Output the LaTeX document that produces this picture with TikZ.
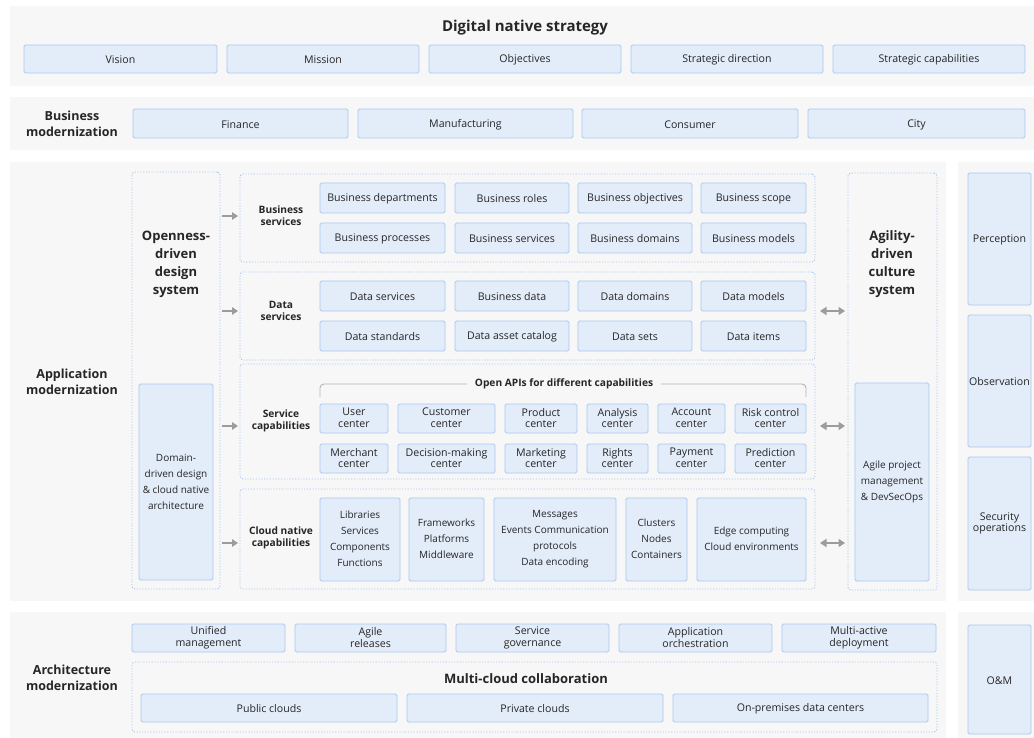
\documentclass[tikz,border=0pt]{standalone}
\usepackage{fontspec}
\setmainfont{Open Sans}
\usetikzlibrary{arrows.meta}
\definecolor{panelbg}{HTML}{F7F7F7}
\definecolor{boxfill}{HTML}{E3ECF9}
\definecolor{boxline}{HTML}{AAC9F1}
\definecolor{dotline}{HTML}{A3C4EE}
\definecolor{txt}{HTML}{262626}
\definecolor{arr}{HTML}{9C9C9C}
\definecolor{bracket}{HTML}{B4B4B4}

% \boxat[style]{name}{x1}{y1}{x2}{y2}{text}: a node spanning the given corners
\newcommand\boxat[7][cell]{%
  \node[#1, minimum width={(#5-#3)*1pt}, minimum height={(#6-#4)*1pt}]
    (#2) at ({(#3+#5)/2},{(#4+#6)/2}) {#7};}

\tikzset{
  base/.style={inner sep=0pt, outer sep=0pt, align=center, text=txt},
  panel/.style={base, fill=panelbg},
  % fixed first-line height and last-line depth so every label sits at the same level
  evenlines/.style={execute at begin node={\rule{0pt}{10.4pt}},
    execute at end node={\rule[-1.2pt]{0pt}{1.2pt}}},
  cell/.style={base, evenlines, fill=boxfill, draw=boxline, line width=0.9pt, rounded corners=1.5pt,
    font=\fontsize{10.6}{11.6}\selectfont},
  tallcell/.style={cell, font=\fontsize{10}{16}\selectfont},
  frame/.style={base, draw=dotline, line width=0.9pt, dash pattern=on 1.1pt off 1.7pt,
    rounded corners=3pt},
  label/.style={base, font=\fontsize{10.2}{12}\selectfont\bfseries},
  biglabel/.style={base, font=\fontsize{12.5}{16}\selectfont\bfseries},
  syslabel/.style={base, font=\fontsize{13}{18}\selectfont\bfseries},
  flow/.style={draw=arr, line width=1.6pt, -{Triangle[length=6pt,width=7.5pt]}},
  twoway/.style={draw=arr, line width=1.6pt, {Triangle[length=6.5pt,width=8pt]}-{Triangle[length=6.5pt,width=8pt]}},
}

\begin{document}
\begin{tikzpicture}[x=1pt, y=-1pt]
\useasboundingbox[fill=white] (0,0) rectangle (1034,738);

% ---------- background panels ----------
\boxat[panel]{pStrategy}{10}{6}{1034}{86}{}
\boxat[panel]{pBusiness}{10}{97}{1034}{150}{}
\boxat[panel]{pApp}{10}{162}{946}{601}{}
\boxat[panel]{pOps}{958}{162}{1034}{601}{}
\boxat[panel]{pArch}{10}{612}{946}{738}{}
\boxat[panel]{pOM}{958}{612}{1034}{738}{}

% ---------- digital native strategy ----------
\node[base, font=\fontsize{15}{18}\selectfont\bfseries] (strategy) at (525,28) {Digital native strategy};
\boxat{vision}{24}{45}{217}{73}{Vision}
\boxat{mission}{227}{45}{419}{73}{Mission}
\boxat{objectives}{429}{45}{621}{73}{Objectives}
\boxat{direction}{631}{45}{823}{73}{Strategic direction}
\boxat{capab}{833}{45}{1025}{73}{Strategic capabilities}

% ---------- business modernization ----------
\node[biglabel] (bizmod) at (72,124) {Business\\modernization};
\boxat{finance}{133}{109}{348}{138}{Finance}
\boxat{manuf}{358}{109}{573}{138}{Manufacturing}
\boxat{consumer}{582}{109}{798}{138}{Consumer}
\boxat{city}{808}{109}{1025}{138}{City}

% ---------- application modernization ----------
\node[biglabel] (appmod) at (72,382) {Application\\modernization};

\boxat[frame]{open}{132}{172}{220}{589}{}
\node[syslabel] (openlbl) at (176,264) {Openness-\\driven\\design\\system};
\boxat[tallcell]{ddd}{139}{384}{213}{580}{Domain-\\driven design\\\& cloud native\\architecture}

% business services
\boxat[frame]{bsvc}{240}{174}{815}{262}{}
\node[label] (bsvclbl) at (281,216) {Business\\services};
\boxat{bs1}{320}{183}{445}{213}{Business departments}
\boxat{bs2}{455}{183}{569}{213}{Business roles}
\boxat{bs3}{578}{183}{692}{213}{Business objectives}
\boxat{bs4}{701}{183}{806}{213}{Business scope}
\boxat{bs5}{320}{223}{445}{253}{Business processes}
\boxat{bs6}{455}{223}{569}{253}{Business services}
\boxat{bs7}{578}{223}{692}{253}{Business domains}
\boxat{bs8}{701}{223}{806}{253}{Business models}

% data services
\boxat[frame]{dsvc}{240}{272}{815}{360}{}
\node[label] (dsvclbl) at (281,311) {Data\\services};
\boxat{ds1}{320}{281}{445}{311}{Data services}
\boxat{ds2}{455}{281}{569}{311}{Business data}
\boxat{ds3}{578}{281}{692}{311}{Data domains}
\boxat{ds4}{701}{281}{806}{311}{Data models}
\boxat{ds5}{320}{321}{445}{351}{Data standards}
\boxat{ds6}{455}{321}{569}{351}{Data asset catalog}
\boxat{ds7}{578}{321}{692}{351}{Data sets}
\boxat{ds8}{701}{321}{806}{351}{Data items}

% service capabilities
\boxat[frame]{scap}{240}{364}{815}{479}{}
\node[label] (scaplbl) at (281,421) {Service\\capabilities};
\coordinate (brL) at (320,397);
\coordinate (brR) at (806,397);
\draw[bracket, line width=0.9pt, rounded corners=4pt] (brL) -- ++(0,-13) -| (brR);
\node[label, fill=panelbg, inner xsep=8pt, inner ysep=1pt] (apis) at (564,384) {Open APIs for different capabilities};
\boxat{sc1}{320}{404}{388}{433}{User\\center}
\boxat{sc2}{398}{404}{495}{433}{Customer\\center}
\boxat{sc3}{505}{404}{577}{433}{Product\\center}
\boxat{sc4}{587}{404}{648}{433}{Analysis\\center}
\boxat{sc5}{658}{404}{725}{433}{Account\\center}
\boxat{sc6}{735}{404}{806}{433}{Risk control\\center}
\boxat{sc7}{320}{444}{388}{473}{Merchant\\center}
\boxat{sc8}{398}{444}{495}{473}{Decision-making\\center}
\boxat{sc9}{505}{444}{577}{473}{Marketing\\center}
\boxat{sc10}{587}{444}{648}{473}{Rights\\center}
\boxat{sc11}{658}{444}{725}{473}{Payment\\center}
\boxat{sc12}{735}{444}{806}{473}{Prediction\\center}

% cloud native capabilities
\boxat[frame]{cloud}{240}{489}{815}{589}{}
\node[label] (cloudlbl) at (281,538) {Cloud native\\capabilities};
\boxat[tallcell]{cn1}{320}{498}{400}{581}{Libraries\\Services\\Components\\Functions}
\boxat[tallcell]{cn2}{409}{498}{484}{581}{Frameworks\\Platforms\\Middleware}
\boxat[tallcell]{cn3}{494}{498}{616}{581}{Messages\\Events Communication\\protocols\\Data encoding}
\boxat[tallcell]{cn4}{626}{498}{687}{581}{Clusters\\Nodes\\Containers}
\boxat[tallcell]{cn5}{697}{498}{806}{581}{Edge computing\\Cloud environments}

% agility-driven culture system
\boxat[frame]{agile}{848}{173}{937}{590}{}
\node[syslabel] (agilelbl) at (892,264) {Agility-\\driven\\culture\\system};
\boxat[tallcell]{devsecops}{855}{383}{929}{581}{Agile project\\management\\\& DevSecOps}

% connectors
\draw[flow, shorten <=2pt, shorten >=2pt] (open.east |- bsvclbl) -- (bsvc.west |- bsvclbl);
\draw[flow, shorten <=2pt, shorten >=2pt] (open.east |- dsvclbl) -- (dsvc.west |- dsvclbl);
\draw[flow, shorten <=2pt, shorten >=2pt] ([yshift=-5pt]open.east |- scaplbl) -- ([yshift=-5pt]scap.west |- scaplbl);
\draw[flow, shorten <=2pt, shorten >=2pt] ([yshift=-5pt]open.east |- cloudlbl) -- ([yshift=-5pt]cloud.west |- cloudlbl);
\draw[twoway, shorten <=5pt, shorten >=3pt] (dsvc.east |- dsvclbl) -- (agile.west |- dsvclbl);
\draw[twoway, shorten <=5pt, shorten >=3pt] ([yshift=-5pt]scap.east |- scaplbl) -- ([yshift=-5pt]agile.west |- scaplbl);
\draw[twoway, shorten <=5pt, shorten >=3pt] ([yshift=-5pt]cloud.east |- cloudlbl) -- ([yshift=-5pt]agile.west |- cloudlbl);

% operations column
\boxat{perception}{968}{173}{1031}{305}{Perception}
\boxat{observation}{968}{315}{1031}{447}{Observation}
\boxat{secops}{968}{457}{1031}{590}{Security\\operations}

% ---------- architecture modernization ----------
\node[biglabel] (archmod) at (72,678) {Architecture\\modernization};
\boxat{am1}{132}{624}{285}{652}{Unified\\management}
\boxat{am2}{295}{624}{446}{652}{Agile\\releases}
\boxat{am3}{456}{624}{609}{652}{Service\\governance}
\boxat{am4}{619}{624}{772}{652}{Application\\orchestration}
\boxat{am5}{782}{624}{936}{652}{Multi-active\\deployment}
\boxat[frame]{multicloud}{132}{662}{937}{732}{}
\node[base, font=\fontsize{13}{16}\selectfont\bfseries] (mclbl) at (526,679) {Multi-cloud collaboration};
\boxat{mc1}{141}{694}{397}{722}{Public clouds}
\boxat{mc2}{407}{694}{663}{722}{Private clouds}
\boxat{mc3}{673}{694}{928}{722}{On-premises data centers}
\boxat{om}{968}{625}{1031}{734}{O\&M}
\end{tikzpicture}
\end{document}
